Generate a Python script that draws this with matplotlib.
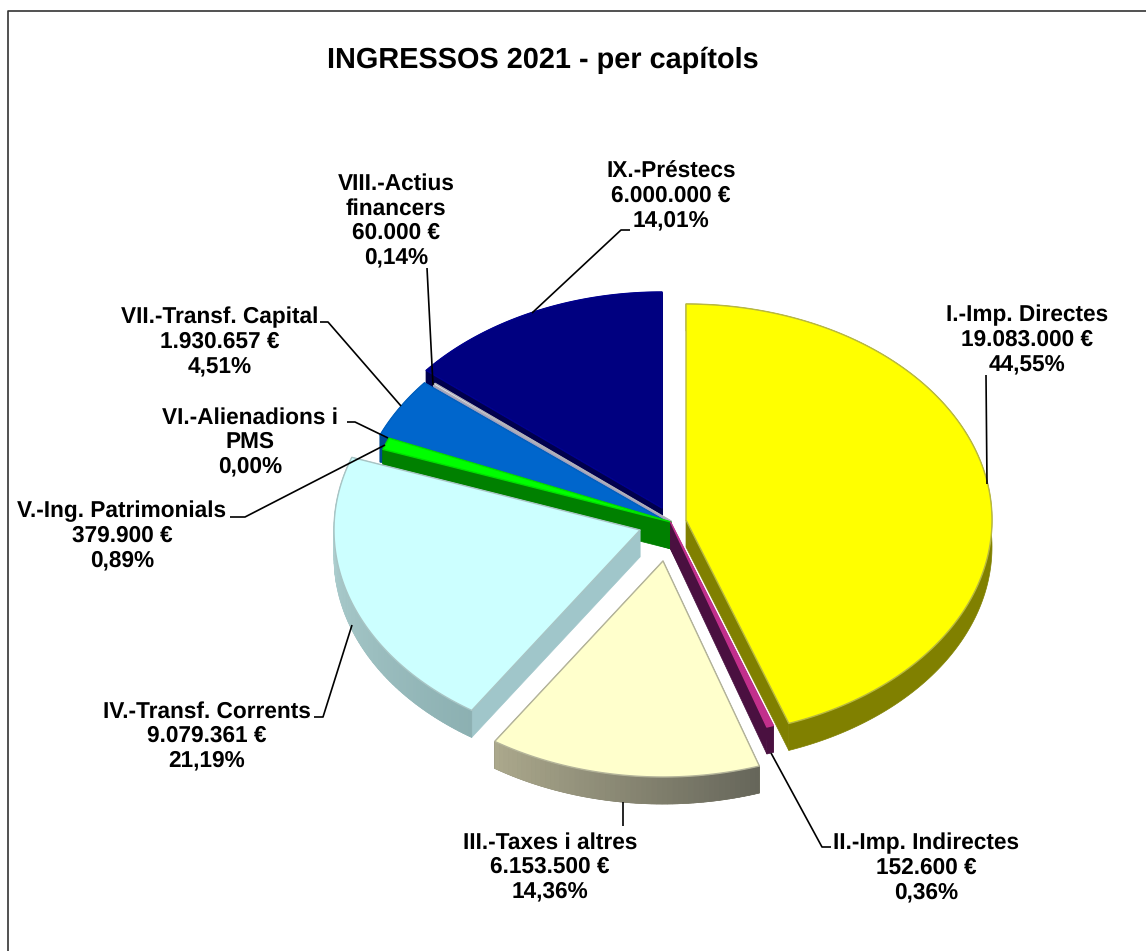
import numpy as np
import matplotlib
matplotlib.use("Agg")
import matplotlib.pyplot as plt
from matplotlib.patches import Polygon
from matplotlib.colors import to_rgb

# ---- data ----
names = ["I.-Imp. Directes", "II.-Imp. Indirectes", "III.-Taxes i altres", "IV.-Transf. Corrents",
         "V.-Ing. Patrimonials", "VI.-Alienadions i\nPMS", "VII.-Transf. Capital",
         "VIII.-Actius\nfinancers", "IX.-Préstecs"]
values = [19083000, 152600, 6153500, 9079361, 379900, 0, 1930657, 60000, 6000000]
amounts = ["19.083.000 €", "152.600 €", "6.153.500 €", "9.079.361 €", "379.900 €", "", "1.930.657 €", "60.000 €", "6.000.000 €"]
percents = ["44,55%", "0,36%", "14,36%", "21,19%", "0,89%", "0,00%", "4,51%", "0,14%", "14,01%"]
title = "INGRESSOS 2021 - per capítols"

# ---- style / layout (pixels) ----
top_colors = ["#FFFF00", "#C2308C", "#FFFFCC", "#CCFFFF", "#00FF00", "#FFFFFF", "#0066CC", "#F0F0F8", "#000080"]
edge_colors = ["#B8B840", "#C2308C", "#B4B49A", "#A8C4C4", "#00E000", "#FFFFFF", "#0060C0", "#B0B0B8", "#000090"]
wall_a = ["#808000", "#4A1040", "#66665A", "#8CB0B2", "#008000", "#FFFFFF", "#004A90", "#A0A0C0", "#00004D"]
wall_b = ["#808000", "#4A1040", "#ABA88C", "#B8D8D8", "#008000", "#FFFFFF", "#004A90", "#A0A0C0", "#00004D"]
radial = ["#808000", "#4A1040", "#66665A", "#A0C6CA", "#008000", "#FFFFFF", "#004A90", "#A0A0C0", "#00004D"]
centers = [(686, 520), (670.5, 522), (663, 561), (640, 530), (671, 522), (671, 522), (662, 519), (671, 521), (662, 508)]
RX, RY, DEPTH = 306, 216, 27
draw_order = [8, 7, 6, 5, 4, 3, 0, 1, 2]
label_pos = [(1027, 340), (926, 868), (550, 867), (207, 736), (122, 536), (250, 442), (220, 342), (396, 221), (671, 196)]
leaders = [
    [(987, 484), (986, 375)],
    [(771, 753), (822, 847), (831, 847)],
    [(623, 802), (623, 826)],
    [(352, 625), (323, 717), (314, 717)],
    [(385, 445), (245, 517), (230, 517)],
    [(388, 438), (355, 422), (347, 422)],
    [(401, 406), (328, 322), (320, 322)],
    [(433, 385), (427, 268)],
    [(532, 313), (621, 230), (630, 230)],
]

plt.rcParams["font.family"] = ["Liberation Sans", "DejaVu Sans"]
plt.rcParams["text.hinting"] = "no_hinting"
fig = plt.figure(figsize=(11.46, 9.51), dpi=100, facecolor="white")
ax = fig.add_axes([0, 0, 1, 1])
ax.set_xlim(0, 1146)
ax.set_ylim(951, 0)
ax.axis("off")

# frame (only top and left fall inside the picture)
ax.plot([8, 8, 1146], [951, 11, 11], color="#333333", lw=1.2, zorder=1)

total = sum(values)
bounds = np.concatenate([[0], np.cumsum(values)]) / total * 2 * np.pi


def arc(i, n=None):
    a0, a1 = bounds[i], bounds[i + 1]
    n = n or max(3, int((a1 - a0) * 60))
    t = np.linspace(a0, a1, n)
    cx, cy = centers[i]
    return t, cx + RX * np.sin(t), cy - RY * np.cos(t)


z = 3
for i in draw_order:
    if values[i] == 0:
        continue
    t, x, y = arc(i)
    cx, cy = centers[i]
    ca, cb = np.array(to_rgb(wall_a[i])), np.array(to_rgb(wall_b[i]))
    # radial cut faces, the one further back first
    faces = sorted([(x[0], y[0]), (x[-1], y[-1])], key=lambda p: p[1])
    for px, py in faces:
        ax.add_patch(Polygon([(cx, cy), (px, py), (px, py + DEPTH), (cx, cy + DEPTH)],
                             fc=radial[i], ec=radial[i], lw=0.5, zorder=z))
    # outer wall
    outline = np.vstack([np.column_stack([x, y]), np.column_stack([x, y + DEPTH])[::-1]])
    if wall_a[i] == wall_b[i]:
        ax.add_patch(Polygon(outline, fc=wall_a[i], ec=wall_a[i], lw=0.5, zorder=z))
    else:
        ax.add_patch(Polygon(outline, fc=(ca + cb) / 2, ec=(ca + cb) / 2, lw=0.5, zorder=z))
        for k in range(len(t) - 1):
            f = k / max(1, len(t) - 2)
            col = ca * (1 - f) + cb * f
            ax.add_patch(Polygon([(x[k], y[k]), (x[k + 1], y[k + 1]), (x[k + 1], y[k + 1] + DEPTH), (x[k], y[k] + DEPTH)],
                                 fc=col, ec=col, lw=0.5, zorder=z))
    z += 1
    ax.add_patch(Polygon(np.vstack([[cx, cy], np.column_stack([x, y])]),
                         fc=top_colors[i], ec=edge_colors[i], lw=1.0, joinstyle="round", zorder=z))
    z += 1

for pts in leaders:
    p = np.array(pts)
    ax.plot(p[:, 0], p[:, 1], color="black", lw=1.2, zorder=50, solid_capstyle="butt")

for i, (lx, ly) in enumerate(label_pos):
    parts = [names[i]] + ([amounts[i]] if amounts[i] else []) + [percents[i]]
    ax.text(lx, ly, "\n".join(parts), ha="center", va="center", fontsize=16.3,
            fontweight="bold", color="black", linespacing=1.19, zorder=60)

ax.text(543, 60, title, ha="center", va="center", fontsize=20.8, fontweight="bold", color="black", zorder=60)

fig.savefig("out.png", dpi=100)
